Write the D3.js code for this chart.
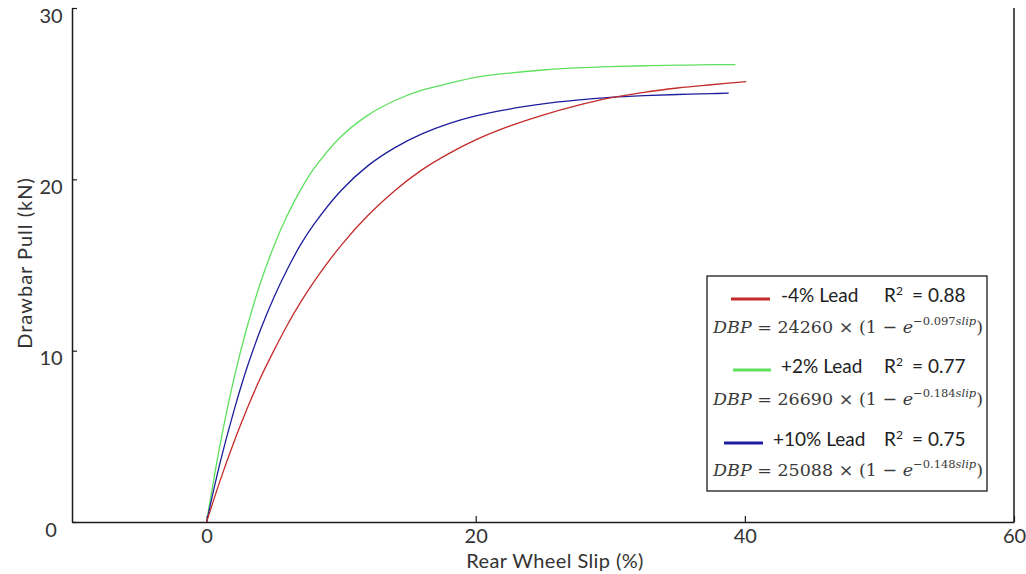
<!DOCTYPE html>
<html>
<head>
<meta charset="utf-8">
<script src="https://cdn.jsdelivr.net/npm/d3@7"></script>
<style>
  html, body { margin: 0; padding: 0; background: #fff; }
  svg { display: block; }
</style>
</head>
<body>
<svg id="chart" width="1026" height="574"></svg>
<script>
// ---------------- data ----------------
const seriesNames = ["-4% Lead", "+2% Lead", "+10% Lead"];
const seriesColors = ["#c42a2a", "#5ee05e", "#1e1e9e"];
const r2Values = ["0.88", "0.77", "0.75"];
const eqCoef = ["24260", "26690", "25088"];
const eqExp = ["0.097", "0.184", "0.148"];

const slipRed   = [0, 1, 2, 3, 4, 5, 6, 7, 8, 10, 12, 14, 16, 18, 20, 22.5, 25, 27.5, 30, 32.5, 35, 37.5, 40.1];
const dbpRed    = [0, 2.4, 4.6, 6.6, 8.4, 10.0, 11.5, 12.85, 14.05, 16.15, 17.9, 19.35, 20.55, 21.5, 22.3, 23.1, 23.75, 24.3, 24.75, 25.08, 25.33, 25.52, 25.7];

const slipGreen = [0, 1, 2, 3, 4, 5, 6, 7, 8, 10, 12, 14, 16, 18, 20, 22.5, 25, 27.5, 30, 32.5, 35, 37.5, 39.3];
const dbpGreen  = [0, 4.5, 8.25, 11.35, 13.95, 16.1, 17.9, 19.4, 20.65, 22.5, 23.75, 24.6, 25.2, 25.6, 25.95, 26.2, 26.38, 26.5, 26.58, 26.63, 26.66, 26.69, 26.7];

const slipBlue  = [0, 1, 2, 3, 4, 5, 6, 7, 8, 10, 12, 14, 16, 18, 20, 22.5, 25, 27.5, 30, 32.5, 35, 37.5, 38.8];
const dbpBlue   = [0, 3.45, 6.4, 9.0, 11.2, 13.1, 14.75, 16.2, 17.4, 19.35, 20.8, 21.85, 22.65, 23.25, 23.7, 24.1, 24.4, 24.62, 24.78, 24.88, 24.95, 25.0, 25.03];

const xTicks = [0, 20, 40, 60];
const yTicks = [0, 10, 20, 30];
const xDomain = [-10, 60];
const yDomain = [0, 30];
const xTitle = "Rear Wheel Slip (%)";
const yTitle = "Drawbar Pull (kN)";

// ---------------- drawing ----------------
const svg = d3.select("#chart");
const mLeft = 72, mRight = 1014, mTop = 8, mBottom = 522;
const x = d3.scaleLinear().domain(xDomain).range([mLeft, mRight]);
const y = d3.scaleLinear().domain(yDomain).range([mBottom, mTop]);

const tickFont = "Lato, 'Open Sans', sans-serif";
const textColor = "#333333";

// X axis
const gx = svg.append("g").attr("transform", `translate(0,${mBottom})`)
  .call(d3.axisBottom(x).tickValues(xTicks).tickSizeInner(-6).tickSizeOuter(0).tickFormat(d3.format("d")));
gx.select(".domain").attr("stroke", "#1a1a1a").attr("stroke-width", 1.5);
gx.selectAll(".tick line").attr("stroke", "#1a1a1a").attr("stroke-width", 1.2);
gx.selectAll(".tick text").attr("y", 21).attr("dy", 0)
  .attr("font-family", tickFont).attr("font-size", 20).attr("fill", textColor);

// Y axis
const gy = svg.append("g").attr("transform", `translate(${mLeft},0)`)
  .call(d3.axisLeft(y).tickValues(yTicks).tickSizeInner(-5).tickSizeOuter(0).tickFormat(d3.format("d")));
gy.select(".domain").attr("stroke", "#1a1a1a").attr("stroke-width", 1.5);
gy.selectAll(".tick line").attr("stroke", "#1a1a1a").attr("stroke-width", 1.2);
gy.selectAll(".tick text").attr("x", -21).attr("dy", 14).attr("text-anchor", "middle")
  .attr("font-family", tickFont).attr("font-size", 20).attr("fill", textColor);

// right border
svg.append("line").attr("x1", mRight).attr("x2", mRight).attr("y1", mTop).attr("y2", mBottom)
  .attr("stroke", "#1a1a1a").attr("stroke-width", 1.5);

// axis titles
svg.append("text").attr("x", 555).attr("y", 568).attr("text-anchor", "middle")
  .attr("font-family", tickFont).attr("font-size", 20).attr("letter-spacing", 0.4)
  .attr("fill", textColor).text(xTitle);
svg.append("text").attr("transform", "translate(32,263) rotate(-90)").attr("text-anchor", "middle")
  .attr("font-family", tickFont).attr("font-size", 20).attr("letter-spacing", 1)
  .attr("fill", textColor).text(yTitle);

// curves
const series = [
  { slip: slipRed, dbp: dbpRed },
  { slip: slipGreen, dbp: dbpGreen },
  { slip: slipBlue, dbp: dbpBlue }
];
const line = d3.line().x(d => x(d[0])).y(d => y(d[1])).curve(d3.curveCatmullRom.alpha(0.5));
[1, 2, 0].forEach(i => {
  const pts = series[i].slip.map((s, k) => [s, series[i].dbp[k]]);
  svg.append("path").datum(pts).attr("d", line).attr("fill", "none")
    .attr("stroke", seriesColors[i]).attr("stroke-width", 1.3);
});

// legend
const lg = svg.append("g");
lg.append("rect").attr("x", 707).attr("y", 276).attr("width", 280).attr("height", 215)
  .attr("fill", "#fff").attr("stroke", "#1a1a1a").attr("stroke-width", 1.3);

const rowY = [299, 370, 443];
const lineX = [[731, 770], [733, 771], [724, 763]];
const labelX = [781, 781, 773];
const eqY = [333, 405, 476];
const eqFont = "'DejaVu Serif', 'Liberation Serif', serif";

seriesNames.forEach((name, i) => {
  lg.append("line").attr("x1", lineX[i][0]).attr("x2", lineX[i][1])
    .attr("y1", rowY[i]).attr("y2", rowY[i])
    .attr("stroke", seriesColors[i]).attr("stroke-width", 3);
  lg.append("text").attr("x", labelX[i]).attr("y", rowY[i] + 3)
    .attr("font-family", tickFont).attr("font-size", 19).attr("fill", "#222").text(name);
  const r = lg.append("text").attr("x", 884).attr("y", rowY[i] + 3)
    .attr("font-family", tickFont).attr("font-size", 19).attr("fill", "#222");
  r.append("tspan").text("R");
  r.append("tspan").attr("dy", -7).attr("font-size", 12).text("2");
  lg.append("text").attr("x", 912).attr("y", rowY[i] + 3)
    .attr("font-family", tickFont).attr("font-size", 19).attr("fill", "#222")
    .text("= " + r2Values[i]);

  const e = lg.append("text").attr("x", 713).attr("y", eqY[i])
    .attr("font-family", eqFont).attr("font-size", 17.5).attr("fill", "#3a3a3a");
  e.append("tspan").attr("font-style", "italic").text("DBP");
  e.append("tspan").text(" = " + eqCoef[i] + " × (1 − ");
  e.append("tspan").attr("font-style", "italic").text("e");
  e.append("tspan").attr("dy", -8).attr("font-size", 11.5).text("−" + eqExp[i]);
  e.append("tspan").attr("font-size", 11.5).attr("font-style", "italic").text("slip");
  e.append("tspan").attr("dy", 8).text(")");
});
</script>
</body>
</html>
